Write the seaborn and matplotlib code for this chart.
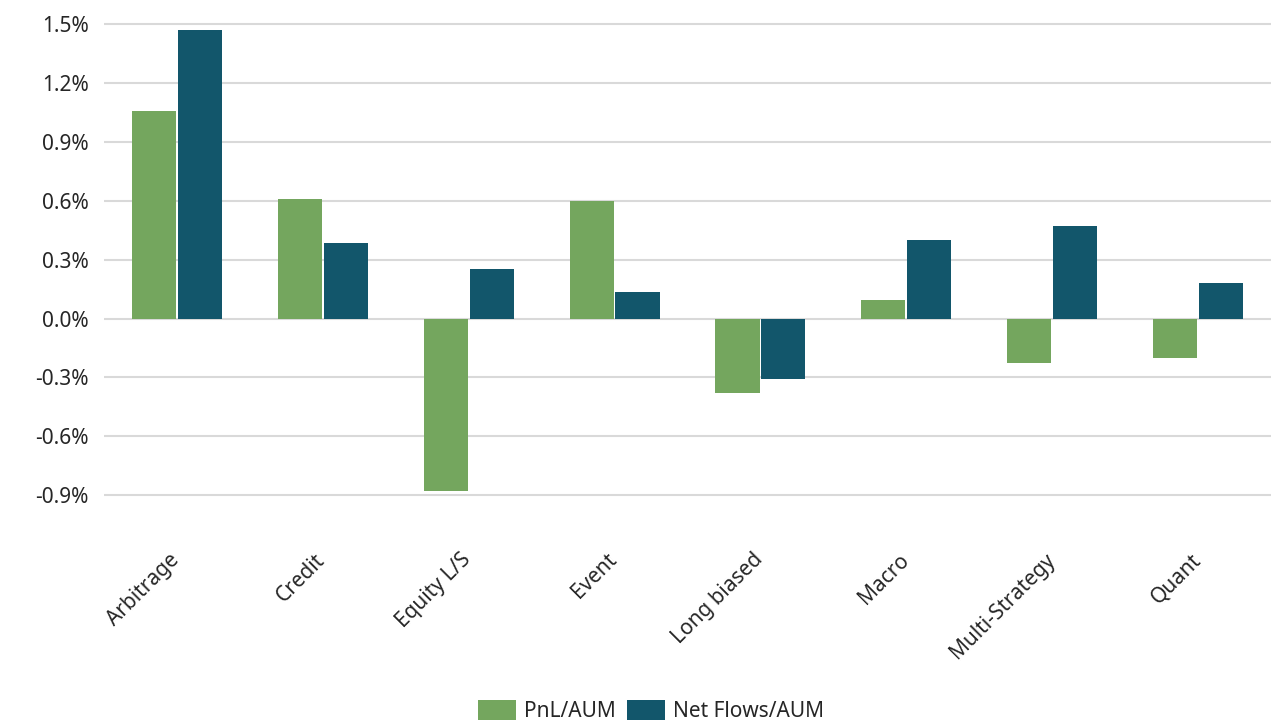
import numpy as np
import pandas as pd
import matplotlib
matplotlib.use("Agg")
import matplotlib.pyplot as plt
import matplotlib.transforms as mtransforms
import seaborn as sns
from matplotlib.ticker import FuncFormatter

categories = ["Arbitrage", "Credit", "Equity L/S", "Event", "Long biased",
              "Macro", "Multi-Strategy", "Quant"]
pnl_aum = [1.06, 0.61, -0.88, 0.60, -0.38, 0.096, -0.225, -0.20]
net_flows_aum = [1.47, 0.385, 0.25, 0.135, -0.31, 0.40, 0.47, 0.18]
series_names = ["PnL/AUM", "Net Flows/AUM"]
colors = ["#74A65E", "#12566B"]

df = pd.DataFrame({
    "Strategy": categories * 2,
    "Series": [series_names[0]] * len(categories) + [series_names[1]] * len(categories),
    "Value": pnl_aum + net_flows_aum,
})

sns.set_theme(style="white")
plt.rcParams["font.family"] = ["Noto Sans", "DejaVu Sans"]
text_color = "#262626"
fs = 15

fig = plt.figure(figsize=(12.76, 7.23), dpi=100)
ax = fig.add_axes([0.0815, 0.2747, 0.9146, 0.697])

sns.barplot(data=df, x="Strategy", y="Value", hue="Series", order=categories,
            hue_order=series_names, palette=colors, width=0.63, gap=0.04,
            saturation=1, linewidth=0, ax=ax, legend=True)

ax.set_ylim(-1.05, 1.52)
ax.set_xlim(-0.5, len(categories) - 0.5)
ax.set_yticks(np.arange(-0.9, 1.51, 0.3))
ax.yaxis.set_major_formatter(FuncFormatter(lambda v, _: f"{0.0 if abs(v) < 1e-9 else v:.1f}%"))
ax.grid(axis="y", color="#D9D9D9", linewidth=1.5)
ax.set_axisbelow(True)
for s in ax.spines.values():
    s.set_visible(False)
ax.set_xlabel("")
ax.set_ylabel("")
ax.tick_params(axis="y", length=0, pad=11, labelsize=fs, labelcolor=text_color)
ax.tick_params(axis="x", length=0, pad=18, labelsize=fs, labelcolor=text_color)
offset = mtransforms.ScaledTranslation(-8 / 100, 0, fig.dpi_scale_trans)
for lbl in ax.get_xticklabels():
    lbl.set_rotation(45)
    lbl.set_ha("right")
    lbl.set_va("top")
    lbl.set_rotation_mode("anchor")
    lbl.set_transform(lbl.get_transform() + offset)

handles, labels = ax.get_legend_handles_labels()
ax.get_legend().remove()
leg = fig.legend(handles, labels, loc="center", bbox_to_anchor=(0.51, 0.0166),
                 ncol=2, frameon=False, fontsize=fs, handlelength=1.83,
                 handleheight=1.1, handletextpad=0.38, columnspacing=0.53)
for t in leg.get_texts():
    t.set_color(text_color)

fig.savefig("out.png", dpi=100)
